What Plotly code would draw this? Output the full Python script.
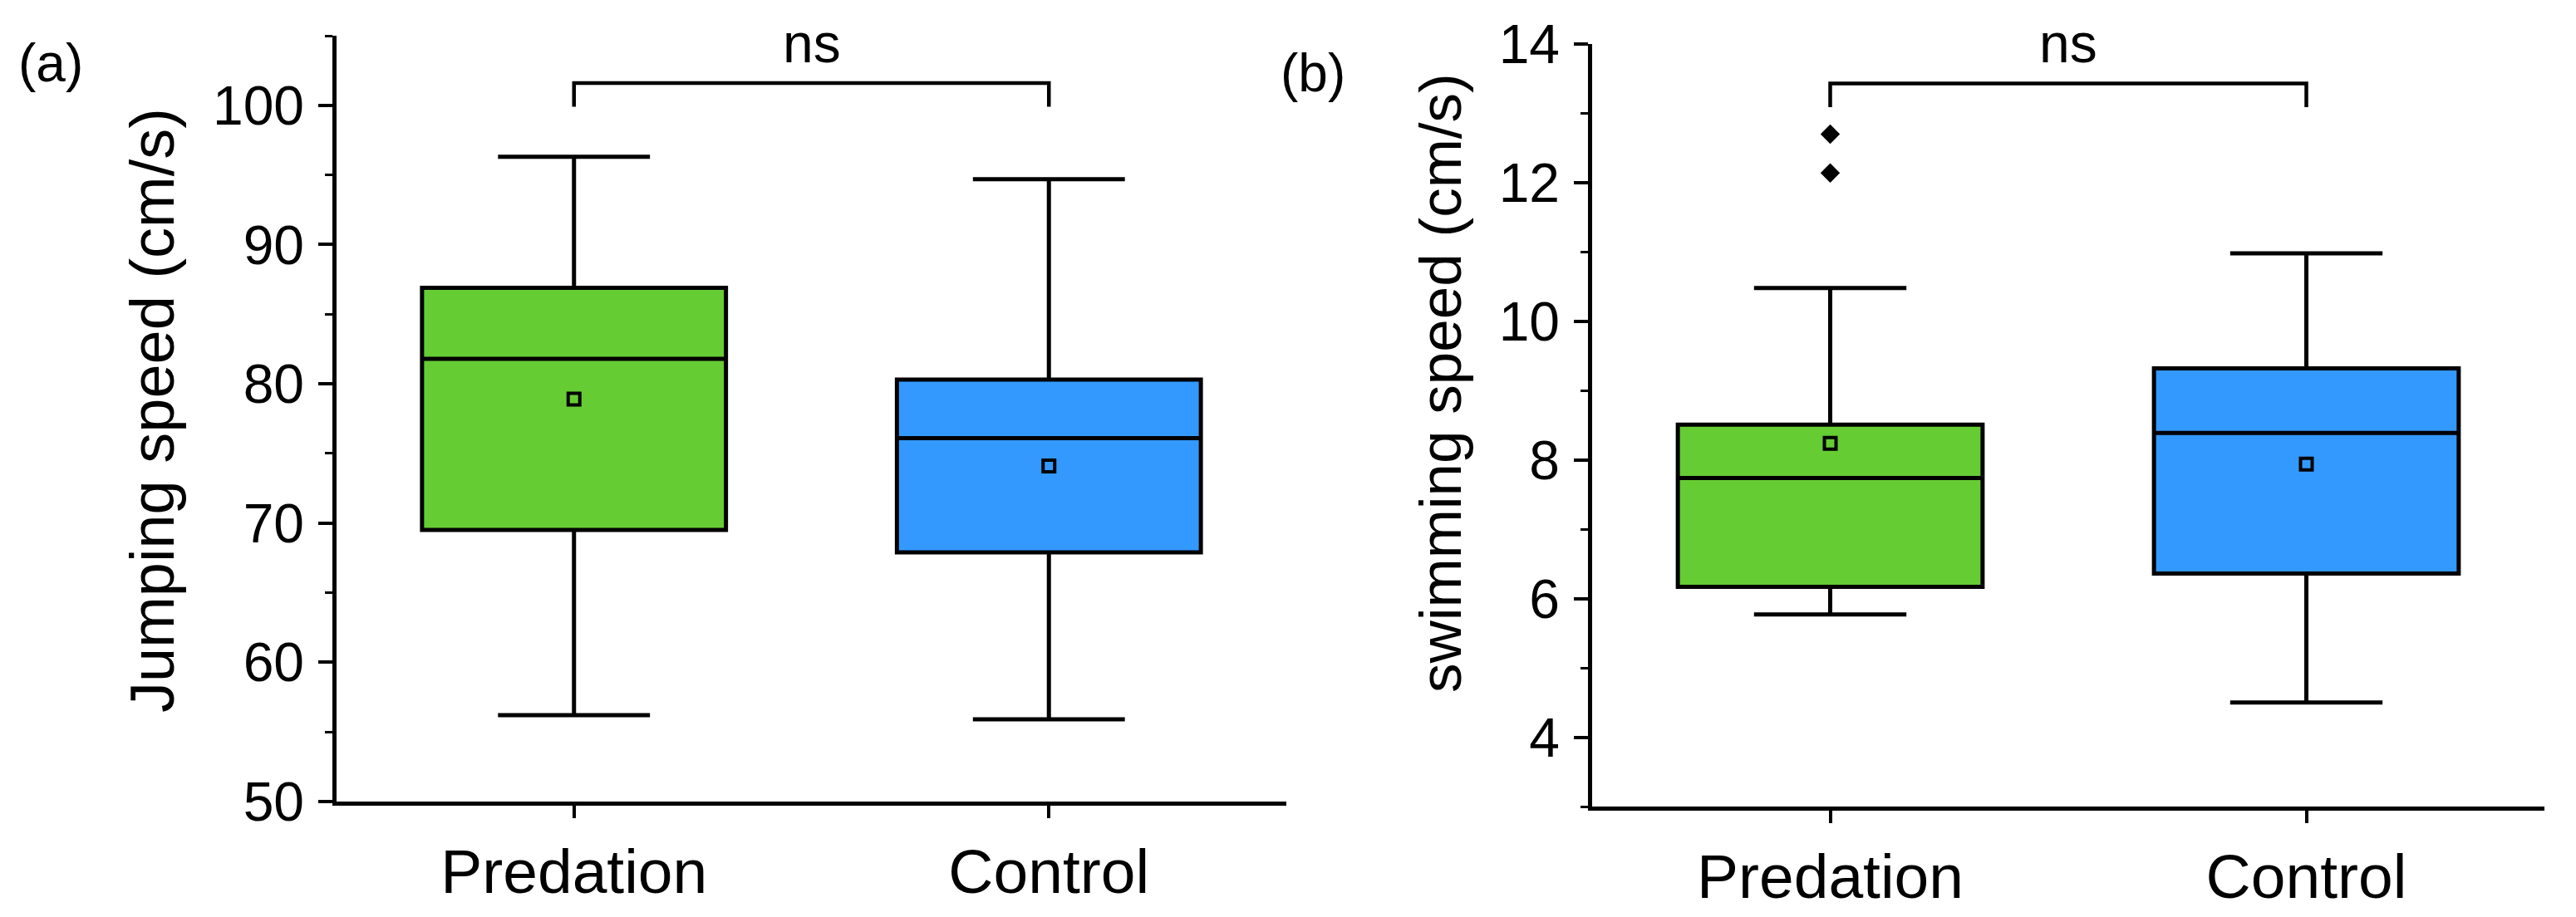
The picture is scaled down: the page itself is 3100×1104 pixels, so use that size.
import plotly.graph_objects as go

# ---------------- data ----------------
groups = ["Predation", "Control"]
box_colors = ["#66CC33", "#3399FF"]

jump_lowerfence = [56.2, 55.9]
jump_q1 = [69.5, 67.9]
jump_median = [81.8, 76.1]
jump_q3 = [86.9, 80.3]
jump_upperfence = [96.3, 94.7]
jump_mean = [78.9, 74.1]

swim_lowerfence = [5.77, 4.50]
swim_q1 = [6.17, 6.36]
swim_median = [7.74, 8.39]
swim_q3 = [8.51, 9.32]
swim_upperfence = [10.48, 10.98]
swim_mean = [8.24, 7.94]
swim_outliers_predation = [12.70, 12.14]

jump_bracket = [99.9, 101.6]   # leg bottom, bar top
swim_bracket = [13.09, 13.43]
sig_text = "ns"

FONT = "Arial, Liberation Sans, sans-serif"
W, H = 3100, 1104

fig = go.Figure()

def add_panel(xa, ya, lf, q1, med, q3, uf, mean, bracket):
    for i, g in enumerate(groups):
        fig.add_trace(go.Box(
            x=[i], lowerfence=[lf[i]], q1=[q1[i]], median=[med[i]], q3=[q3[i]],
            upperfence=[uf[i]], boxpoints=False, width=0.64, whiskerwidth=0.5,
            fillcolor=box_colors[i], line=dict(color="black", width=5),
            xaxis=xa, yaxis=ya, showlegend=False, hoverinfo="skip"))
    fig.add_trace(go.Scatter(
        x=[0, 1], y=mean, mode="markers", xaxis=xa, yaxis=ya, showlegend=False,
        marker=dict(symbol="square-open", size=14, color="black", line=dict(width=4))))
    fig.add_trace(go.Scatter(
        x=[0, 0, 1, 1], y=[bracket[0], bracket[1], bracket[1], bracket[0]],
        mode="lines", line=dict(color="black", width=4.5), xaxis=xa, yaxis=ya,
        showlegend=False, cliponaxis=False))

add_panel("x", "y", jump_lowerfence, jump_q1, jump_median, jump_q3,
          jump_upperfence, jump_mean, jump_bracket)
add_panel("x2", "y2", swim_lowerfence, swim_q1, swim_median, swim_q3,
          swim_upperfence, swim_mean, swim_bracket)

fig.add_trace(go.Scatter(
    x=[0] * len(swim_outliers_predation), y=swim_outliers_predation, mode="markers",
    marker=dict(symbol="diamond", size=18, color="black"), xaxis="x2", yaxis="y2",
    showlegend=False))

xcommon = dict(range=[-0.5, 1.5], tickvals=[0, 1], ticktext=groups, showline=True,
               linecolor="black", linewidth=5, ticks="outside", ticklen=15,
               tickwidth=3.5, tickcolor="black", showgrid=False, zeroline=False,
               automargin=False,
               tickfont=dict(family=FONT, size=75, color="black"),
               ticklabelstandoff=0)
ycommon = dict(showline=True, linecolor="black", linewidth=4.5, ticks="outside",
               ticklen=17, tickwidth=4, tickcolor="black", showgrid=False,
               zeroline=False, automargin=False,
               tickfont=dict(family=FONT, size=66, color="black"),
               ticklabelstandoff=4)

fig.update_layout(
    width=W, height=H, margin=dict(l=0, r=0, t=0, b=0, autoexpand=False),
    paper_bgcolor="white", plot_bgcolor="white", boxmode="overlay",
    xaxis=dict(domain=[405 / W, 1548 / W], anchor="y", **xcommon),
    yaxis=dict(domain=[1 - 965 / H, 1 - 43 / H], anchor="x", range=[50, 105],
               tick0=50, dtick=10,
               minor=dict(dtick=5, tick0=50, ticks="outside", ticklen=9,
                          tickwidth=3, tickcolor="black"), **ycommon),
    xaxis2=dict(domain=[1916 / W, 3062 / W], anchor="y2", **xcommon),
    yaxis2=dict(domain=[1 - 971 / H, 1 - 53 / H], anchor="x2", range=[3, 14],
                tick0=4, dtick=2,
                minor=dict(dtick=1, tick0=3, ticks="outside", ticklen=9,
                           tickwidth=3, tickcolor="black"), **ycommon),
)

ann = [
    dict(text="Jumping speed (cm/s)", x=183 / W, y=1 - 494 / H, size=74),
    dict(text="swimming speed (cm/s)", x=1733 / W, y=1 - 461 / H, size=71),
]
for a in ann:
    fig.add_annotation(text=a["text"], x=a["x"], y=a["y"], xref="paper", yref="paper",
                       textangle=-90, showarrow=False, xanchor="center", yanchor="middle",
                       font=dict(family=FONT, size=a["size"], color="black"))

for txt, x, y in [("(a)", 61 / W, 1 - 76 / H), ("(b)", 1580 / W, 1 - 88 / H)]:
    fig.add_annotation(text=txt, x=x, y=y, xref="paper", yref="paper", showarrow=False,
                       xanchor="center", yanchor="middle",
                       font=dict(family=FONT, size=64, color="black"))

for xr in ["x", "x2"]:
    fig.add_annotation(text=sig_text, x=0.5, y=1 - 52 / H, xref=xr, yref="paper",
                       showarrow=False, xanchor="center", yanchor="middle",
                       font=dict(family=FONT, size=66, color="black"))

fig.write_html("out.html")
